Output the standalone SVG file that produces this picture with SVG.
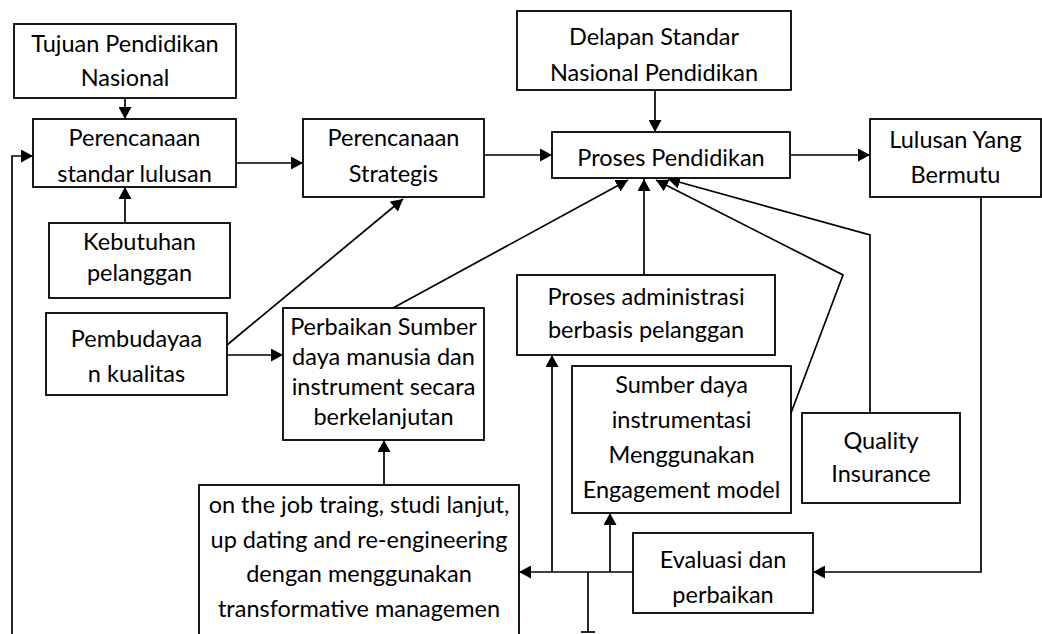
<svg xmlns="http://www.w3.org/2000/svg" width="1042" height="634" viewBox="0 0 1042 634">
<style>
.box{fill:#fff;stroke:#000;stroke-width:1.8}
.ln{fill:none;stroke:#000;stroke-width:1.7}
.ar{marker-end:url(#ah)}
text{font-family:Lato,"Liberation Sans",sans-serif;font-size:23.5px;fill:#000;text-anchor:middle}
</style>
<defs>
<marker id="ah" markerUnits="userSpaceOnUse" markerWidth="13" markerHeight="13" refX="12" refY="6.5" orient="auto">
<path d="M0,0 L12,6.5 L0,13 z" fill="#000"/>
</marker>
</defs>
<rect width="1042" height="634" fill="#fff"/>
<g id="connectors">
<line class="ln ar" x1="125" y1="98" x2="125" y2="119"/>
<line class="ln ar" x1="125" y1="223" x2="125" y2="187"/>
<line class="ln ar" x1="236" y1="163" x2="303" y2="163"/>
<line class="ln ar" x1="227" y1="345" x2="403" y2="199"/>
<line class="ln ar" x1="227" y1="355" x2="283" y2="355"/>
<line class="ln ar" x1="484" y1="155" x2="552" y2="155"/>
<line class="ln ar" x1="655" y1="90" x2="655" y2="132"/>
<line class="ln ar" x1="790" y1="155" x2="870" y2="155"/>
<line class="ln ar" x1="393" y1="308" x2="628" y2="180"/>
<line class="ln ar" x1="644" y1="275" x2="644" y2="179"/>
<polyline class="ln ar" points="791,413 843,275 656,180"/>
<polyline class="ln ar" points="870,413 870,235 668,179"/>
<polyline class="ln ar" points="981,197 981,572 813,572"/>
<line class="ln ar" x1="633" y1="572" x2="519" y2="572"/>
<line class="ln ar" x1="552" y1="572" x2="552" y2="355"/>
<line class="ln ar" x1="610" y1="572" x2="610" y2="513"/>
<line class="ln" x1="588" y1="572" x2="588" y2="632"/>
<line class="ln" x1="581" y1="632" x2="595" y2="632"/>
<line class="ln ar" x1="384" y1="485" x2="384" y2="440"/>
<polyline class="ln ar" points="12,640 12,156 33,156"/>
</g>
<g id="tujuan">
<rect class="box" x="14" y="24" width="222" height="74"/>
<text x="125" y="52">Tujuan Pendidikan</text>
<text x="125" y="86">Nasional</text>
</g>
<g id="perencanaan-standar">
<rect class="box" x="33" y="119" width="203" height="68"/>
<text x="134.5" y="146">Perencanaan</text>
<text x="134.5" y="182">standar lulusan</text>
</g>
<g id="kebutuhan">
<rect class="box" x="49" y="223" width="181" height="75"/>
<text x="139.5" y="250">Kebutuhan</text>
<text x="139.5" y="281">pelanggan</text>
</g>
<g id="pembudayaan">
<rect class="box" x="46" y="313" width="181" height="82"/>
<text x="136.5" y="347">Pembudayaa</text>
<text x="136.5" y="382">n kualitas</text>
</g>
<g id="perencanaan-strategis">
<rect class="box" x="303" y="119" width="181" height="78"/>
<text x="393.5" y="146">Perencanaan</text>
<text x="393.5" y="182">Strategis</text>
</g>
<g id="delapan">
<rect class="box" x="517" y="11" width="274" height="79"/>
<text x="654" y="45">Delapan Standar</text>
<text x="654" y="81">Nasional Pendidikan</text>
</g>
<g id="proses-pendidikan">
<rect class="box" x="552" y="132" width="238" height="46"/>
<text x="671" y="166">Proses Pendidikan</text>
</g>
<g id="lulusan">
<rect class="box" x="870" y="119" width="171" height="78"/>
<text x="955.5" y="148">Lulusan Yang</text>
<text x="955.5" y="183">Bermutu</text>
</g>
<g id="perbaikan">
<rect class="box" x="283" y="308" width="201" height="132"/>
<text x="383.5" y="335">Perbaikan Sumber</text>
<text x="383.5" y="365">daya manusia dan</text>
<text x="383.5" y="395">instrument secara</text>
<text x="383.5" y="425">berkelanjutan</text>
</g>
<g id="proses-administrasi">
<rect class="box" x="517" y="275" width="258" height="80"/>
<text x="646" y="305">Proses administrasi</text>
<text x="646" y="338">berbasis pelanggan</text>
</g>
<g id="sumber-daya">
<rect class="box" x="572" y="366" width="219" height="147"/>
<text x="681.5" y="393">Sumber daya</text>
<text x="681.5" y="428">instrumentasi</text>
<text x="681.5" y="463">Menggunakan</text>
<text x="681.5" y="498">Engagement model</text>
</g>
<g id="quality">
<rect class="box" x="802" y="413" width="158" height="90"/>
<text x="881" y="449">Quality</text>
<text x="881" y="482">Insurance</text>
</g>
<g id="on-the-job">
<rect class="box" x="199" y="485" width="320" height="160"/>
<text x="359" y="513">on the job traing, studi lanjut,</text>
<text x="359" y="548">up dating and re-engineering</text>
<text x="359" y="582">dengan menggunakan</text>
<text x="359" y="617">transformative managemen</text>
</g>
<g id="evaluasi">
<rect class="box" x="633" y="533" width="180" height="80"/>
<text x="723" y="568">Evaluasi dan</text>
<text x="723" y="603">perbaikan</text>
</g>
</svg>
